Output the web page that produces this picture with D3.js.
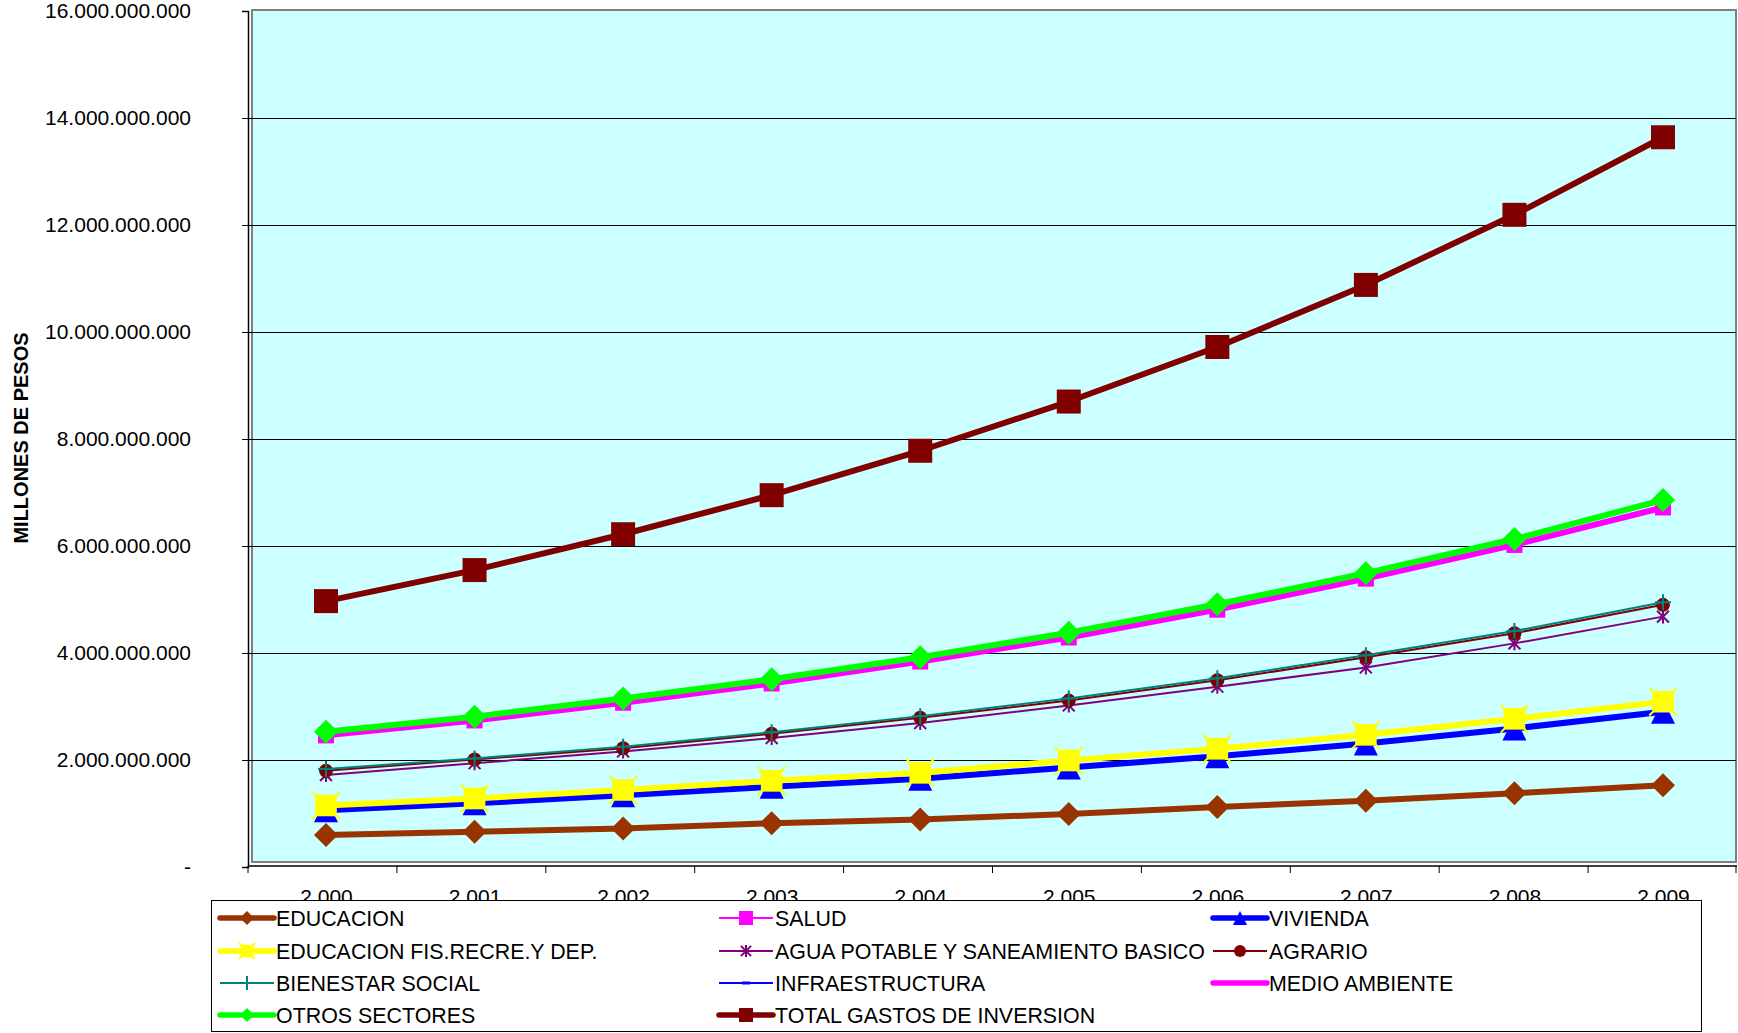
<!DOCTYPE html>
<html>
<head>
<meta charset="utf-8">
<script src="https://cdn.jsdelivr.net/npm/d3@7"></script>
<style>
  body { margin: 0; background: #fff; }
  text { font-family: "Liberation Sans", Arial, sans-serif; }
</style>
</head>
<body>
<svg id="chart" width="1738" height="1033"></svg>
<script>
const years = ['2.000', '2.001', '2.002', '2.003', '2.004', '2.005', '2.006', '2.007', '2.008', '2.009'];
const yTicks = [0, 2e9, 4e9, 6e9, 8e9, 10e9, 12e9, 14e9, 16e9];

const educacion = [0.60e9, 0.66e9, 0.72e9, 0.82e9, 0.89e9, 0.99e9, 1.12e9, 1.24e9, 1.38e9, 1.53e9];
const salud = [2.46e9, 2.74e9, 3.07e9, 3.43e9, 3.84e9, 4.29e9, 4.81e9, 5.39e9, 6.02e9, 6.72e9];
const vivienda = [1.06e9, 1.19e9, 1.34e9, 1.50e9, 1.65e9, 1.86e9, 2.07e9, 2.31e9, 2.59e9, 2.90e9];
const educFis = [1.15e9, 1.28e9, 1.44e9, 1.61e9, 1.76e9, 1.99e9, 2.21e9, 2.47e9, 2.77e9, 3.09e9];
const agua = [1.72e9, 1.94e9, 2.16e9, 2.41e9, 2.69e9, 3.02e9, 3.37e9, 3.73e9, 4.18e9, 4.68e9];
const agrario = [1.80e9, 2.01e9, 2.22e9, 2.49e9, 2.79e9, 3.11e9, 3.49e9, 3.92e9, 4.37e9, 4.90e9];
const bienestar = [1.83e9, 2.03e9, 2.25e9, 2.52e9, 2.82e9, 3.15e9, 3.53e9, 3.96e9, 4.41e9, 4.95e9];
const infraestructura = [2.52e9, 2.80e9, 3.14e9, 3.50e9, 3.91e9, 4.37e9, 4.90e9, 5.48e9, 6.12e9, 6.85e9];
const medioAmbiente = [2.46e9, 2.74e9, 3.07e9, 3.43e9, 3.84e9, 4.29e9, 4.81e9, 5.39e9, 6.02e9, 6.72e9];
const otros = [2.53e9, 2.81e9, 3.15e9, 3.51e9, 3.92e9, 4.38e9, 4.91e9, 5.49e9, 6.13e9, 6.86e9];
const total = [4.97e9, 5.55e9, 6.22e9, 6.95e9, 7.78e9, 8.70e9, 9.72e9, 10.88e9, 12.19e9, 13.64e9];

const series = [
  { name: 'EDUCACION', values: educacion, color: '#993300', width: 6, marker: 'diamond', r: 12 },
  { name: 'SALUD', values: salud, color: '#FF00FF', width: 2, marker: 'square', r: 8 },
  { name: 'VIVIENDA', values: vivienda, color: '#0000FF', width: 6, marker: 'triangle', r: 12 },
  { name: 'EDUCACION FIS.RECRE.Y DEP.', values: educFis, color: '#FFFF00', width: 6, marker: 'starSquare', r: 12 },
  { name: 'AGUA POTABLE Y SANEAMIENTO BASICO', values: agua, color: '#800080', width: 2, marker: 'asterisk', r: 7 },
  { name: 'AGRARIO', values: agrario, color: '#800000', width: 2, marker: 'circle', r: 7 },
  { name: 'BIENESTAR SOCIAL', values: bienestar, color: '#008080', width: 2, marker: 'plus', r: 8 },
  { name: 'INFRAESTRUCTURA', values: infraestructura, color: '#0000FF', width: 2, marker: 'dash', r: 5 },
  { name: 'MEDIO AMBIENTE', values: medioAmbiente, color: '#FF00FF', width: 6, marker: 'none', r: 0 },
  { name: 'OTROS SECTORES', values: otros, color: '#00FF00', width: 6, marker: 'diamond', r: 12 },
  { name: 'TOTAL GASTOS DE INVERSION', values: total, color: '#800000', width: 6, marker: 'square', r: 12 }
];

const svg = d3.select('#chart');
const plotLeft = 248, plotRight = 1737, plotTop = 11, plotBottom = 867;

// band scale for category edges and labels, point scale for the markers
const x = d3.scaleBand().domain(years).range([plotLeft, plotRight]);
const xp = d3.scalePoint().domain(years).range([326, 1663]);
const y = d3.scaleLinear().domain([0, 16e9]).range([plotBottom, plotTop]);

const fmt = v => v === 0 ? '-' : d3.format(',')(v).replace(/,/g, '.');

// plot area
svg.append('rect')
  .attr('x', 252).attr('y', 10)
  .attr('width', 1484).attr('height', 852)
  .attr('fill', '#CCFFFF')
  .attr('stroke', '#808080').attr('stroke-width', 2);

// gridlines
svg.append('g')
  .selectAll('line')
  .data(yTicks.filter(d => d > 0 && d < 16e9))
  .enter().append('line')
  .attr('x1', plotLeft).attr('x2', plotRight - 1)
  .attr('y1', d => Math.round(y(d)) + 0.5).attr('y2', d => Math.round(y(d)) + 0.5)
  .attr('stroke', '#000').attr('stroke-width', 1);

// y axis
const yAxis = svg.append('g')
  .attr('transform', 'translate(' + plotLeft + ',0)')
  .call(d3.axisLeft(y).tickValues(yTicks).tickFormat(fmt).tickSize(6).tickPadding(51));
yAxis.select('.domain').attr('stroke', '#000').attr('stroke-width', 1.5);
yAxis.selectAll('line').attr('stroke', '#000');
yAxis.selectAll('text').attr('font-size', 21).attr('fill', '#000')
  .style('font-family', '"Liberation Sans", Arial, sans-serif');

// x axis line and ticks at category boundaries
svg.append('line')
  .attr('x1', plotLeft).attr('x2', plotRight)
  .attr('y1', plotBottom - 1).attr('y2', plotBottom - 1)
  .attr('stroke', '#000').attr('stroke-width', 1.5);
const edges = years.map(d => x(d)).concat([plotRight - 1]);
svg.append('g')
  .selectAll('line')
  .data(edges)
  .enter().append('line')
  .attr('x1', d => d).attr('x2', d => d)
  .attr('y1', plotBottom - 1).attr('y2', plotBottom + 6)
  .attr('stroke', '#000').attr('stroke-width', 1);

const xAxis = svg.append('g')
  .attr('transform', 'translate(0,' + (plotBottom - 1) + ')')
  .call(d3.axisBottom(xp).tickSize(0).tickPadding(23));
xAxis.select('.domain').remove();
xAxis.selectAll('text').attr('font-size', 21).attr('fill', '#000')
  .style('font-family', '"Liberation Sans", Arial, sans-serif');

// marker drawing
function marker(g, type, r, color) {
  if (type === 'diamond') {
    g.append('path').attr('d', `M0,${-r}L${r},0L0,${r}L${-r},0Z`).attr('fill', color);
  } else if (type === 'square') {
    g.append('rect').attr('x', -r).attr('y', -r).attr('width', 2 * r).attr('height', 2 * r).attr('fill', color);
  } else if (type === 'triangle') {
    g.append('path').attr('d', `M0,${-r}L${r},${r}L${-r},${r}Z`).attr('fill', color);
  } else if (type === 'starSquare') {
    const k = r * 1.15;
    g.append('path').attr('d', `M${-k},${-k}L${k},${k}M${k},${-k}L${-k},${k}`)
      .attr('stroke', color).attr('stroke-width', 2);
    g.append('rect').attr('x', -r * 0.9).attr('y', -r * 0.9).attr('width', 1.8 * r).attr('height', 1.8 * r).attr('fill', color);
  } else if (type === 'asterisk') {
    const k = r * 0.85;
    g.append('path').attr('d', `M0,${-r}V${r}M${-k},${-k}L${k},${k}M${k},${-k}L${-k},${k}`)
      .attr('stroke', color).attr('stroke-width', 2).attr('fill', 'none');
  } else if (type === 'circle') {
    g.append('circle').attr('r', r).attr('fill', color);
  } else if (type === 'plus') {
    g.append('path').attr('d', `M${-r},0H${r}M0,${-r}V${r}`)
      .attr('stroke', color).attr('stroke-width', 2).attr('fill', 'none');
  } else if (type === 'dash') {
    g.append('rect').attr('x', -r).attr('y', -1.5).attr('width', 2 * r).attr('height', 3).attr('fill', color);
  }
}

const line = d3.line()
  .x((d, i) => xp(years[i]))
  .y(d => y(d));

series.forEach(s => {
  const g = svg.append('g');
  g.append('path')
    .attr('d', line(s.values))
    .attr('fill', 'none')
    .attr('stroke', s.color)
    .attr('stroke-width', s.width)
    .attr('stroke-linejoin', 'round');
  s.values.forEach((v, i) => {
    const m = g.append('g')
      .attr('transform', 'translate(' + xp(years[i]) + ',' + y(v) + ')');
    marker(m, s.marker, s.r, s.color);
  });
});

// legend
const legend = svg.append('g');
legend.append('rect')
  .attr('x', 211.5).attr('y', 900.5)
  .attr('width', 1490).attr('height', 131)
  .attr('fill', '#fff').attr('stroke', '#000').attr('stroke-width', 1);

const colX = [220, 719, 1213];
const rowY = [918, 951, 983, 1015];
series.forEach((s, i) => {
  const gx = colX[i % 3], gy = rowY[Math.floor(i / 3)];
  const item = legend.append('g').attr('transform', 'translate(' + gx + ',' + gy + ')');
  item.append('line')
    .attr('x1', 0).attr('x2', 54).attr('y1', 0).attr('y2', 0)
    .attr('stroke', s.color).attr('stroke-width', s.width === 6 ? 5.5 : 2)
    .attr('stroke-linecap', s.width === 6 ? 'round' : 'butt');
  const m = item.append('g').attr('transform', 'translate(27,0)');
  const lr = { diamond: 7, square: 7, triangle: 7, starSquare: 7, asterisk: 6, circle: 6, plus: 7, dash: 4 }[s.marker] || 0;
  marker(m, s.marker, lr, s.color);
  item.append('text')
    .attr('x', 56).attr('y', 0).attr('dy', '0.36em')
    .attr('font-size', 21.4).attr('fill', '#000')
    .text(s.name);
});

// y axis title
svg.append('text')
  .attr('transform', 'translate(28,438) rotate(-90)')
  .attr('text-anchor', 'middle')
  .attr('font-size', 20).attr('font-weight', 'bold').attr('fill', '#000')
  .text('MILLONES DE PESOS');
</script>
</body>
</html>
